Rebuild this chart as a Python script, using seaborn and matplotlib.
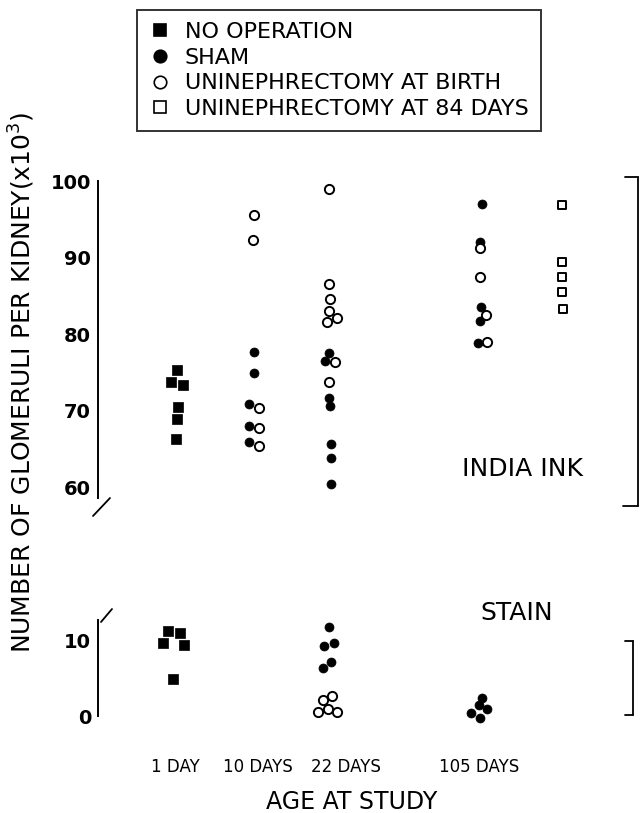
import matplotlib
matplotlib.use("Agg")
import matplotlib.pyplot as plt
from matplotlib.lines import Line2D
import seaborn as sns
import pandas as pd

sns.set_style("white")
plt.rcParams["font.family"] = ["DejaVu Sans"]
plt.rcParams["text.color"] = "black"
plt.rcParams["axes.labelcolor"] = "black"
plt.rcParams["xtick.color"] = "black"
plt.rcParams["ytick.color"] = "black"

# ---------------- data ----------------
ages = ["1 DAY", "10 DAYS", "22 DAYS", "105 DAYS"]
groups = ["NO OPERATION", "SHAM", "UNINEPHRECTOMY AT BIRTH", "UNINEPHRECTOMY AT 84 DAYS"]
yticks_ink = [60, 70, 80, 90, 100]
yticks_stain = [0, 10]

# India ink counts (x10^3)
ink_noop_1d = [75.3, 73.7, 73.3, 70.5, 68.9, 66.3]
ink_sham_10d = [77.6, 74.9, 70.9, 68.0, 65.9]
ink_birth_10d = [95.6, 92.3, 70.3, 67.7, 65.4]
ink_sham_22d = [77.5, 76.5, 71.6, 70.6, 65.6, 63.8, 60.4]
ink_birth_22d = [99.0, 86.5, 84.6, 83.0, 82.1, 81.6, 76.3, 73.7]
ink_sham_105d = [97.0, 92.0, 83.5, 81.7, 78.8]
ink_birth_105d = [91.2, 87.5, 82.5, 79.0]
ink_adult_105d = [96.9, 89.4, 87.5, 85.5, 83.3]

# Stain counts (x10^3)
stain_noop_1d = [11.2, 10.9, 9.6, 9.3, 4.9]
stain_sham_22d = [11.7, 9.6, 9.2, 7.1, 6.3]
stain_birth_22d = [2.6, 2.1, 0.9, 0.5, 0.5]
stain_sham_105d = [2.4, 1.5, 0.9, 0.4, -0.3]

# ---------------- layout ----------------
W, H = 641, 813
group_x = {"1d": 77, "10d": 156, "22d": 231, "105d": 382, "adult": 464}
tick_x = [77, 160, 248, 381]
jitter = {
    "ink_noop_1d": [2, -4, 8, 3, 2, 1],
    "ink_sham_10d": [0, 0, -5, -5, -5],
    "ink_birth_10d": [0, -1, 5, 5, 5],
    "ink_sham_22d": [0, -4, 0, 1, 2, 2, 2],
    "ink_birth_22d": [0, 0, 1, 0, 8, -2, 6, 0],
    "ink_sham_105d": [2, 0, 1, 0, -2],
    "ink_birth_105d": [0, 0, 6, 7],
    "ink_adult_105d": [0, 0, 0, 0, 1],
    "stain_noop_1d": [-7, 5, -12, 9, -2],
    "stain_sham_22d": [0, 5, -5, 2, -6],
    "stain_birth_22d": [3, -6, -1, -11, 8],
    "stain_sham_105d": [2, -1, 7, -9, 0],
}

styles = {
    "NO OPERATION": dict(marker="s", facecolor="black", edgecolor="black", s=62, linewidth=0.5),
    "SHAM": dict(marker="o", facecolor="black", edgecolor="black", s=42, linewidth=0.5),
    "UNINEPHRECTOMY AT BIRTH": dict(marker="o", facecolor="white", edgecolor="black", s=44, linewidth=1.4),
    "UNINEPHRECTOMY AT 84 DAYS": dict(marker="s", facecolor="white", edgecolor="black", s=36, linewidth=1.4),
}

series = [
    ("ink", "ink_noop_1d", ink_noop_1d, "1d", "NO OPERATION"),
    ("ink", "ink_sham_10d", ink_sham_10d, "10d", "SHAM"),
    ("ink", "ink_birth_10d", ink_birth_10d, "10d", "UNINEPHRECTOMY AT BIRTH"),
    ("ink", "ink_sham_22d", ink_sham_22d, "22d", "SHAM"),
    ("ink", "ink_birth_22d", ink_birth_22d, "22d", "UNINEPHRECTOMY AT BIRTH"),
    ("ink", "ink_sham_105d", ink_sham_105d, "105d", "SHAM"),
    ("ink", "ink_birth_105d", ink_birth_105d, "105d", "UNINEPHRECTOMY AT BIRTH"),
    ("ink", "ink_adult_105d", ink_adult_105d, "adult", "UNINEPHRECTOMY AT 84 DAYS"),
    ("stain", "stain_noop_1d", stain_noop_1d, "1d", "NO OPERATION"),
    ("stain", "stain_sham_22d", stain_sham_22d, "22d", "SHAM"),
    ("stain", "stain_birth_22d", stain_birth_22d, "22d", "UNINEPHRECTOMY AT BIRTH"),
    ("stain", "stain_sham_105d", stain_sham_105d, "105d", "SHAM"),
]

fig = plt.figure(figsize=(W / 100, H / 100), dpi=100)
spine_px = 98
ax_top = fig.add_axes([spine_px / W, 1 - 498 / H, 540 / W, (498 - 181) / H])
ax_bot = fig.add_axes([spine_px / W, 1 - 716 / H, 540 / W, (716 - 615) / H])

px_per_unit = 7.65
ax_top.set_ylim(100 - (498 - 181) / px_per_unit, 100)
ax_bot.set_ylim(0, (716 - 615) / 7.6)
for ax in (ax_top, ax_bot):
    ax.set_xlim(0, 540)
    for sp in ("top", "right", "bottom"):
        ax.spines[sp].set_visible(False)
    ax.spines["left"].set_linewidth(1.4)
    ax.spines["left"].set_color("black")
    ax.tick_params(axis="y", direction="in", length=11, width=1.2,
                   labelsize=14, pad=5, colors="black")
    ax.set_facecolor("none")

for panel, key, vals, grp, g in series:
    ax = ax_top if panel == "ink" else ax_bot
    df = pd.DataFrame({"x": [group_x[grp] + j for j in jitter[key]], "y": vals})
    st = styles[g]
    sns.scatterplot(data=df, x="x", y="y", ax=ax, marker=st["marker"], s=st["s"],
                    facecolor=st["facecolor"], edgecolor=st["edgecolor"],
                    linewidth=st["linewidth"], clip_on=False, legend=False,
                    zorder=3 if st["facecolor"] == "white" else 2)

ax_top.set_yticks(yticks_ink)
ax_bot.set_yticks(yticks_stain)
for ax in (ax_top, ax_bot):
    for lab in ax.get_yticklabels():
        lab.set_fontweight("bold")
ax_top.set_xticks([])
ax_bot.set_xticks(tick_x)
ax_bot.set_xticklabels(ages, fontsize=12)
ax_bot.tick_params(axis="x", length=0, pad=30)
for ax in (ax_top, ax_bot):
    ax.set_xlabel("")
    ax.set_ylabel("")
ax_bot.spines["left"].set_bounds(0, 12.6)

def fig_line(x0, y0, x1, y1, lw=1.3):
    fig.add_artist(Line2D([x0 / W, x1 / W], [1 - y0 / H, 1 - y1 / H],
                          color="black", lw=lw, transform=fig.transFigure))

# break marks
fig_line(110, 498, 93, 516)
fig_line(112, 609, 101, 622)

# right brackets
fig_line(625, 177, 638, 177)
fig_line(638, 177, 638, 506)
fig_line(623, 506, 638, 506)
fig_line(625, 641, 633, 641)
fig_line(633, 641, 633, 715)
fig_line(625, 715, 633, 715)

fig.text(462 / W, 1 - 469 / H, "INDIA INK", fontsize=18, ha="left", va="center")
fig.text(480 / W, 1 - 613 / H, "STAIN", fontsize=18, ha="left", va="center")
fig.text(352 / W, 1 - 802 / H, "AGE AT STUDY", fontsize=17, ha="center", va="center")
fig.text(22 / W, 1 - 382 / H, "NUMBER OF GLOMERULI PER KIDNEY(x10$^3$)", fontsize=18,
         rotation=90, ha="center", va="center")

handles = [Line2D([], [], linestyle="none", marker=styles[g]["marker"],
                  markerfacecolor=styles[g]["facecolor"], markeredgecolor="black",
                  markeredgewidth=1.2, markersize=9) for g in groups]
leg = fig.legend(handles, groups, loc="upper left", bbox_to_anchor=(137 / W, 1 - 10 / H),
                 frameon=True, fancybox=False, fontsize=16, handlelength=1.0,
                 handletextpad=0.6, labelspacing=0.25, borderpad=0.55, borderaxespad=0)
leg.get_frame().set_edgecolor("black")
leg.get_frame().set_linewidth(1.4)

fig.savefig("out.png", dpi=100)
